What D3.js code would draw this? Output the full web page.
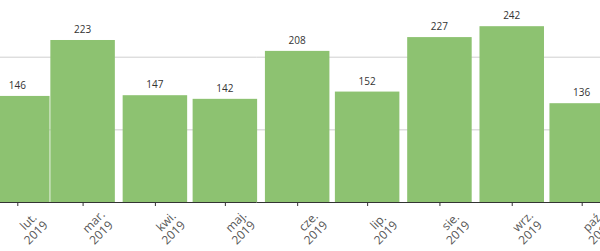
<!DOCTYPE html>
<html>
<head>
<meta charset="utf-8">
<script src="https://cdn.jsdelivr.net/npm/d3@7"></script>
<style>
  body { margin: 0; background: #fff; }
  svg { display: block; font-family: "Open Sans", "Noto Sans", sans-serif; }
</style>
</head>
<body>
<div id="chart"></div>
<script>
// monthly counts, 2019
var months = ["2019-02-01", "2019-03-01", "2019-04-01", "2019-05-01", "2019-06-01",
              "2019-07-01", "2019-08-01", "2019-09-01", "2019-10-01"];
var monthNames = ["lut.", "mar.", "kwi.", "maj.", "cze.", "lip.", "sie.", "wrz.", "paź."];
var values = [146, 223, 147, 142, 208, 152, 227, 242, 136];
var gridValues = [100, 200];

const width = 600, height = 251;
const baseY = 202;

var parse = d3.timeParse("%Y-%m-%d");
var dates = months.map(parse);

const svg = d3.select("#chart")
  .append("svg")
  .attr("width", width)
  .attr("height", height);

// time scale, tick on the 1st of each month
var x = d3.scaleTime()
  .domain([dates[0], dates[dates.length - 1]])
  .range([17.3, 581.7]);

var y = d3.scaleLinear()
  .domain([0, 300])
  .range([baseY, baseY - 300 * 0.7265]);

// bars are as wide as the shortest month
var barW = x(dates[1]) - x(dates[0]) - 0.8;

// gridlines
svg.append("g")
  .call(d3.axisLeft(y).tickValues(gridValues).tickSize(-width).tickFormat(""))
  .call(g => g.select(".domain").remove())
  .selectAll("line")
  .attr("stroke", "#cfcfcf");

// bars
svg.append("g").selectAll("rect")
  .data(values)
  .enter().append("rect")
  .attr("x", (d, i) => x(dates[i]) - barW / 2)
  .attr("y", d => y(d))
  .attr("width", barW)
  .attr("height", d => y(0) - y(d))
  .attr("fill", "#8dc271");

// value labels
svg.append("g").selectAll("text")
  .data(values)
  .enter().append("text")
  .attr("x", (d, i) => x(dates[i]))
  .attr("y", d => y(d) - 7)
  .attr("text-anchor", "middle")
  .style("font-size", "10px")
  .style("fill", "#333")
  .text(d => d);

// x axis
svg.append("line")
  .attr("x1", 0).attr("x2", width)
  .attr("y1", baseY + 0.5).attr("y2", baseY + 0.5)
  .attr("stroke", "#333");

var axis = svg.append("g")
  .attr("transform", `translate(0,${baseY})`)
  .call(d3.axisBottom(x).tickValues(dates).tickSize(4).tickFormat(""));
axis.select(".domain").remove();
axis.selectAll("line").attr("stroke", "#333");

// rotated two-line month labels (month, then year)
var lblG = svg.append("g")
  .style("font-size", "12px")
  .style("fill", "#555");

lblG.selectAll("text.m")
  .data(dates)
  .enter().append("text")
  .attr("class", "m")
  .attr("text-anchor", "middle")
  .attr("transform", d => `translate(${x(d) + 14},224.5) rotate(-45)`)
  .text((d, i) => monthNames[i]);

lblG.selectAll("text.yr")
  .data(dates)
  .enter().append("text")
  .attr("class", "yr")
  .attr("text-anchor", "middle")
  .attr("transform", d => `translate(${x(d) + 21.5},235.5) rotate(-45)`)
  .text(d => d3.timeFormat("%Y")(d));
</script>
</body>
</html>
